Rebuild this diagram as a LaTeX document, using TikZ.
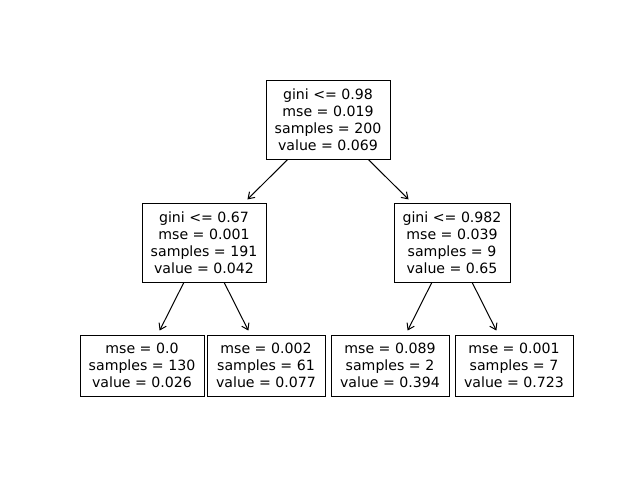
\documentclass[tikz,border=0pt]{standalone}
\usepackage{fontspec}
\setmainfont{DejaVu Sans}
\usetikzlibrary{arrows.meta}
\begin{document}
\begin{tikzpicture}[x=0.75pt,y=-0.75pt,
  tbox/.style={draw,line width=0.75pt,inner sep=0pt,align=center,
    font=\fontsize{10.6}{12.75}\selectfont,minimum height=#1*0.75pt},
  edge/.style={line width=0.75pt,-{Straight Barb[length=4.5pt,width=6pt,line width=0.75pt]},shorten >=3.3pt}]
\useasboundingbox (0,0) rectangle (640,480);
\node[tbox=79,minimum width=93pt] (root) at (328,119.5) {gini <= 0.98\\mse = 0.019\\samples = 200\\value = 0.069};
\node[tbox=79,minimum width=93pt] (l) at (204,242.5) {gini <= 0.67\\mse = 0.001\\samples = 191\\value = 0.042};
\node[tbox=79,minimum width=87pt] (r) at (452,242.5) {gini <= 0.982\\mse = 0.039\\samples = 9\\value = 0.65};
\node[tbox=61,minimum width=93pt] (ll) at (142,365.5) {mse = 0.0\\samples = 130\\value = 0.026};
\node[tbox=61,minimum width=88.5pt] (lr) at (266,365.5) {mse = 0.002\\samples = 61\\value = 0.077};
\node[tbox=61,minimum width=88.5pt] (rl) at (390,365.5) {mse = 0.089\\samples = 2\\value = 0.394};
\node[tbox=61,minimum width=88.5pt] (rr) at (514,365.5) {mse = 0.001\\samples = 7\\value = 0.723};
\draw[edge] (root) -- (l);
\draw[edge] (root) -- (r);
\draw[edge] (l) -- (ll);
\draw[edge] (l) -- (lr);
\draw[edge] (r) -- (rl);
\draw[edge] (r) -- (rr);
\end{tikzpicture}
\end{document}
